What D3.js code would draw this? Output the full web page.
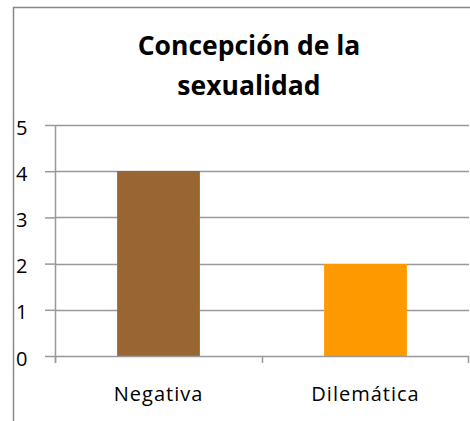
<!DOCTYPE html>
<html>
<head>
<meta charset="utf-8">
<script src="https://cdn.jsdelivr.net/npm/d3@7"></script>
<style>
  body { margin: 0; background: #fff; }
  svg { display: block; font-family: "Open Sans", "Liberation Sans", sans-serif; }
</style>
</head>
<body>
<div id="chart"></div>
<script>
// chart data
const categories = ['Negativa', 'Dilemática'];
const values = [4, 2];
const barColors = ['#996633', '#FF9900'];
const yTicks = [0, 1, 2, 3, 4, 5];
const titleLines = ['Concepción de la', 'sexualidad'];

const width = 470, height = 421;
const margin = { top: 125, right: 1, bottom: 65, left: 55 };

const svg = d3.select('#chart').append('svg')
    .attr('width', width)
    .attr('height', height);

// outer chart frame (only left and top edges are inside the crop)
svg.append('path')
    .attr('d', `M13.5,${height} V7.5 H${width}`)
    .attr('fill', 'none')
    .attr('stroke', '#888')
    .attr('stroke-width', 1.5);

// title
svg.append('g').selectAll('text')
    .data(titleLines)
    .join('text')
    .attr('x', 249)
    .attr('y', (d, i) => 55 + i * 40)
    .attr('text-anchor', 'middle')
    .attr('font-size', '26.5px')
    .attr('font-weight', 'bold')
    .attr('fill', '#000')
    .text(d => d);

const innerW = width - margin.left - margin.right;
const innerH = height - margin.top - margin.bottom;

const g = svg.append('g')
    .attr('transform', `translate(${margin.left},${margin.top})`);

const x = d3.scaleBand()
    .domain(categories)
    .range([0, innerW])
    .paddingInner(0.6)
    .paddingOuter(0.3);

const xBand = d3.scaleBand()
    .domain(categories)
    .range([0, innerW]);

const y = d3.scaleLinear()
    .domain([0, 5])
    .range([innerH, 0]);

// gridlines
g.append('g')
    .selectAll('line')
    .data(yTicks.filter(t => t > 0))
    .join('line')
    .attr('x1', 0)
    .attr('x2', innerW)
    .attr('y1', d => Math.round(y(d)) + 0.5)
    .attr('y2', d => Math.round(y(d)) + 0.5)
    .attr('stroke', '#999')
    .attr('stroke-width', 1.5);

// bars
g.append('g')
    .selectAll('rect')
    .data(values)
    .join('rect')
    .attr('x', (d, i) => x(categories[i]))
    .attr('y', d => Math.round(y(d)))
    .attr('width', x.bandwidth())
    .attr('height', d => innerH - Math.round(y(d)))
    .attr('fill', (d, i) => barColors[i]);

// y axis
const yAxis = g.append('g')
    .call(d3.axisLeft(y).tickValues(yTicks).tickSize(10).tickFormat(d3.format('d')));
yAxis.select('.domain').attr('stroke', '#999').attr('stroke-width', 1.5).attr('d', `M0.5,${innerH + 7}V0`);
yAxis.selectAll('.tick line').attr('stroke', '#999').attr('stroke-width', 1.5);
yAxis.selectAll('.tick text')
    .attr('font-size', '20px')
    .attr('font-family', '"Open Sans", sans-serif')
    .attr('fill', '#000')
    .attr('text-anchor', 'start')
    .attr('x', -39)
    .attr('dy', '0.45em');

// x axis
const xAxis = g.append('g')
    .attr('transform', `translate(0,${innerH})`)
    .call(d3.axisBottom(xBand).tickSize(0).tickPadding(31));
xAxis.select('.domain').attr('stroke', '#999').attr('stroke-width', 1.5).attr('d', `M0,0.5H${innerW}`);
xAxis.selectAll('.tick text')
    .attr('font-size', '20px')
    .attr('font-family', '"Open Sans", sans-serif')
    .attr('letter-spacing', '1px')
    .attr('fill', '#000');

// category separator ticks
g.append('g')
    .selectAll('line')
    .data([0, 1, 2])
    .join('line')
    .attr('x1', d => Math.min(d * xBand.step(), innerW - 1) + 0.5)
    .attr('x2', d => Math.min(d * xBand.step(), innerW - 1) + 0.5)
    .attr('y1', innerH)
    .attr('y2', innerH + 7)
    .attr('stroke', '#999')
    .attr('stroke-width', 1.5);
</script>
</body>
</html>
